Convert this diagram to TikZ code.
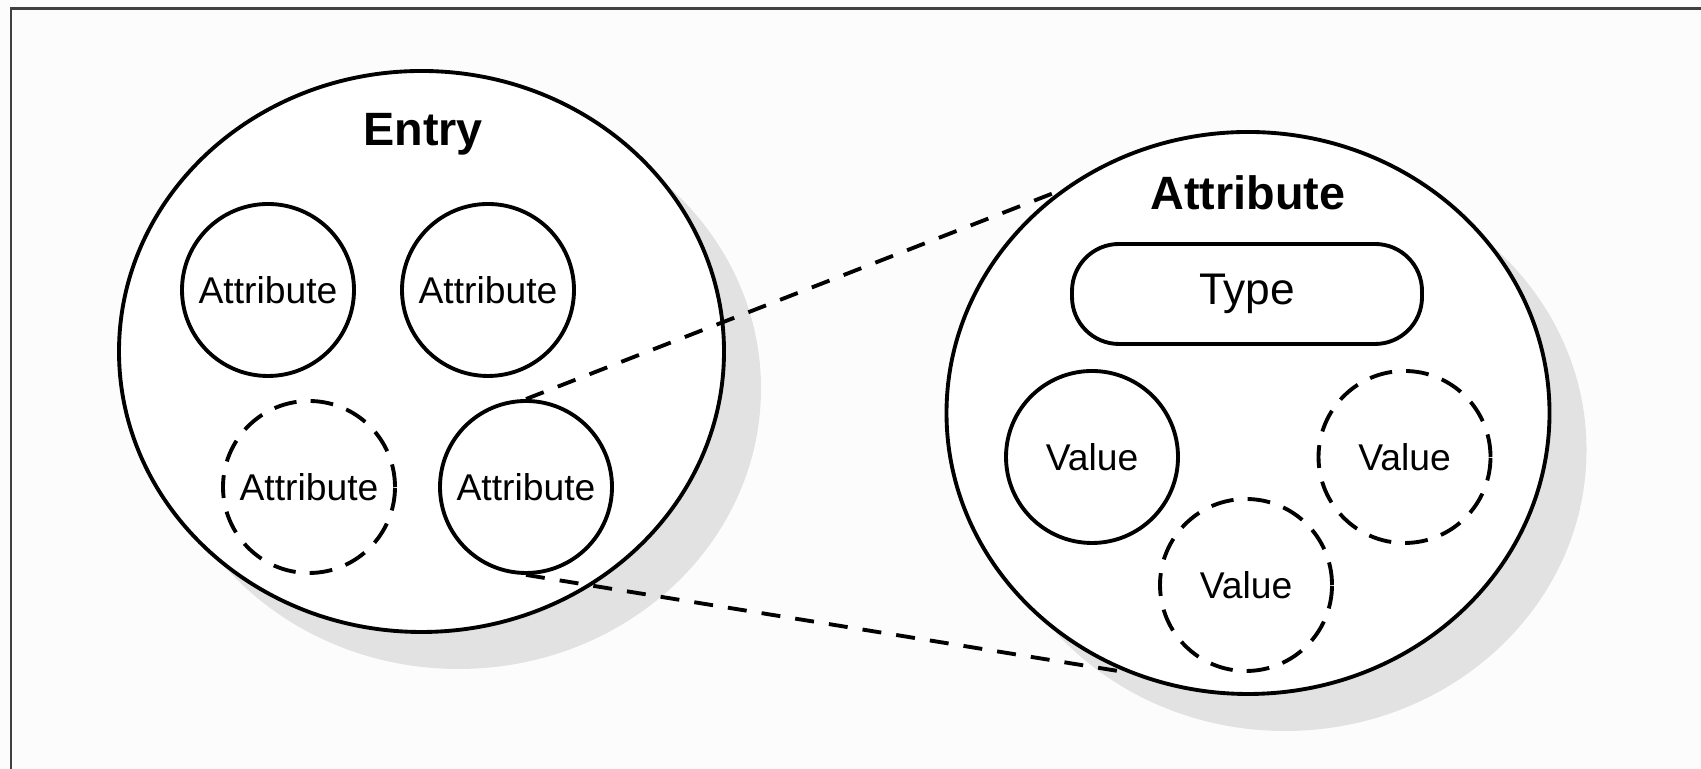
\documentclass[tikz,border=0pt]{standalone}
\usepackage{fontspec}
\setmainfont{Liberation Sans}
\usetikzlibrary{shapes.geometric, shadows}
\definecolor{paper}{RGB}{251,252,251}
\definecolor{framegray}{RGB}{64,64,64}

\begin{document}
\begin{tikzpicture}[line width=1.1pt,
        whole/.style={ellipse, draw, fill=white, inner sep=0pt,
            drop shadow={shadow xshift=0.37cm, shadow yshift=-0.37cm, fill=black, opacity=0.1}},
        part/.style={circle, draw, fill=white, inner sep=0pt, minimum size=1.72cm,
            font=\fontsize{10.6}{12}\selectfont},
        maybe/.style={part, dash pattern=on 6.5pt off 4pt},
        title/.style={anchor=base, font=\fontsize{13.3}{16}\selectfont\bfseries},
        zoomline/.style={dash pattern=on 5.4pt off 4.3pt}]
        % Define the canvas
        \fill[paper] (0,0) rectangle (17.01,7.69);
        \useasboundingbox (0,0) rectangle (17.01,7.69);
        \draw[framegray, line width=0.6pt] (0.107,0) -- (0.107,7.605) -- (17.01,7.605);
        % Define the nodes
        \node[whole, minimum width=6.05cm, minimum height=5.61cm] (entry) at (4.215,4.175) {};
        \node[title] (entry-label) at (4.23,6.23) {Entry};
        \node[part] (a1) at (2.68,4.79) {Attribute};
        \node[part] (a2) at (4.88,4.79) {Attribute};
        \node[maybe] (a3) at (3.09,2.82) {Attribute};
        \node[part] (a4) at (5.26,2.82) {Attribute};
        \node[whole, minimum width=6.03cm, minimum height=5.62cm] (attr) at (12.48,3.56) {};
        \node[title] (attr-label) at (12.48,5.59) {Attribute};
        \node[draw, fill=white, rounded corners=0.47cm, minimum width=3.5cm, minimum height=1cm,
            font=\fontsize{12.6}{15}\selectfont] (type) at (12.47,4.75) {Type};
        \node[part] (v1) at (10.92,3.12) {Value};
        \node[maybe] (v2) at (14.045,3.12) {Value};
        \node[maybe] (v3) at (12.46,1.84) {Value};
        % Define the connectors
        \draw[zoomline] (a4.north) -- (attr.130);
        \draw[zoomline] (a4.south) -- (attr.245);
    \end{tikzpicture}
\end{document}
